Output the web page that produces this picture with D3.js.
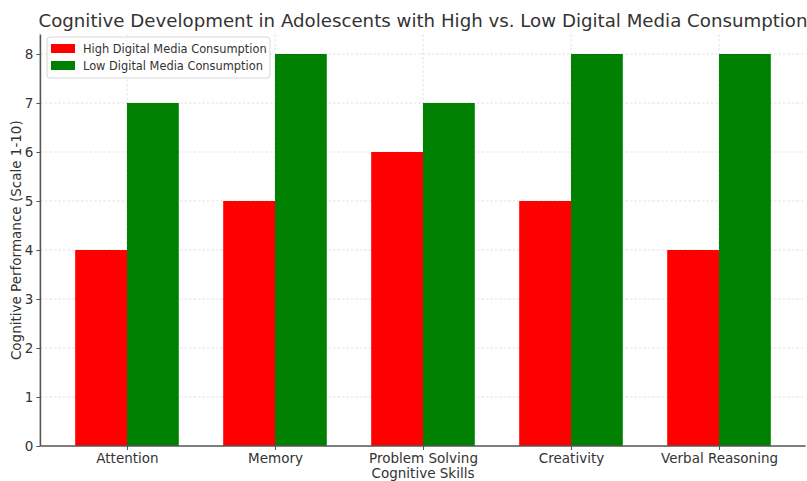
<!DOCTYPE html>
<html>
<head>
<meta charset="utf-8">
<script src="https://cdn.jsdelivr.net/npm/d3@7"></script>
<style>
  html, body { margin: 0; padding: 0; background: #fff; }
  svg { display: block; font-family: "DejaVu Sans", sans-serif; }
</style>
</head>
<body>
<svg id="chart" width="807" height="481"></svg>
<script>
// Cognitive skill scores for the two consumption groups
const skills = ["Attention", "Memory", "Problem Solving", "Creativity", "Verbal Reasoning"];
const highConsumption = [4, 5, 6, 5, 4];
const lowConsumption = [7, 8, 7, 8, 8];
const seriesNames = ["High Digital Media Consumption", "Low Digital Media Consumption"];
const seriesColors = ["#ff0000", "#008000"];
const yTicks = [0, 1, 2, 3, 4, 5, 6, 7, 8];

const svg = d3.select("#chart");
const margin = { left: 40.4, right: 1.4, top: 34.4, bottom: 35 };
const W = 807, H = 481;
const plotL = margin.left, plotR = W - margin.right;
const plotT = margin.top, plotB = H - margin.bottom;

const barW = 0.35;
// Linear x in category-index units, padded like a 5% margin around the bars
const xMin = -barW, xMax = skills.length - 1 + barW;
const pad = (xMax - xMin) * 0.05;
const x = d3.scaleLinear().domain([xMin - pad, xMax + pad]).range([plotL, plotR]);
const y = d3.scaleLinear().domain([0, 8.4]).range([plotB, plotT]);

const textColor = "#333333";
const gridColor = "#d4d4d4";

// Grid lines
const grid = svg.append("g");
grid.selectAll("line.h").data(yTicks.slice(1)).join("line")
  .attr("x1", plotL).attr("x2", plotR)
  .attr("y1", d => y(d)).attr("y2", d => y(d))
  .attr("stroke", gridColor).attr("stroke-width", 0.7).attr("stroke-dasharray", "2.5,2");
grid.selectAll("line.v").data(skills.map((s, i) => i)).join("line")
  .attr("x1", d => x(d)).attr("x2", d => x(d))
  .attr("y1", plotT).attr("y2", plotB)
  .attr("stroke", gridColor).attr("stroke-width", 0.7).attr("stroke-dasharray", "2.5,2");

// Bars
const series = [highConsumption, lowConsumption];
series.forEach((vals, si) => {
  svg.append("g").selectAll("rect").data(vals).join("rect")
    .attr("x", (d, i) => x(i + (si === 0 ? -barW : 0)))
    .attr("width", (d, i) => x(i + barW) - x(i))
    .attr("y", d => y(d))
    .attr("height", d => y(0) - y(d))
    .attr("fill", seriesColors[si]);
});

// Axes
const xAxis = d3.axisBottom(x).tickValues(skills.map((s, i) => i))
  .tickFormat(i => skills[i]).tickSize(4).tickPadding(3);
const gx = svg.append("g").attr("transform", `translate(0,${plotB})`).call(xAxis);
const yAxis = d3.axisLeft(y).tickValues(yTicks).tickSize(4).tickPadding(3);
const gy = svg.append("g").attr("transform", `translate(${plotL},0)`).call(yAxis);
[gx, gy].forEach(g => {
  g.select(".domain").attr("stroke", "#555").attr("stroke-width", 1.6);
  g.selectAll(".tick line").attr("stroke", "#555");
  g.selectAll(".tick text").attr("fill", textColor)
    .style("font-family", "DejaVu Sans").style("font-size", "13.5px");
});
// Keep the spine lines flat (no outer tick hooks) like a plain axis frame
gx.select(".domain").attr("d", `M${plotL},0H${plotR}`);
gy.select(".domain").attr("d", `M0,${plotB}V${plotT}`);

// Axis titles
svg.append("text").attr("x", (plotL + plotR) / 2).attr("y", 478)
  .attr("text-anchor", "middle").attr("fill", textColor).style("font-size", "13.5px")
  .text("Cognitive Skills");
svg.append("text").attr("transform", `translate(21,${(plotT + plotB) / 2}) rotate(-90)`)
  .attr("text-anchor", "middle").attr("fill", textColor).style("font-size", "13.5px")
  .text("Cognitive Performance (Scale 1-10)");

// Chart title
svg.append("text").attr("x", (plotL + plotR) / 2).attr("y", 27)
  .attr("text-anchor", "middle").attr("fill", textColor).style("font-size", "18.2px")
  .text("Cognitive Development in Adolescents with High vs. Low Digital Media Consumption");

// Legend
const lg = svg.append("g").attr("transform", "translate(47,37)");
lg.append("rect").attr("width", 223).attr("height", 41).attr("rx", 3)
  .attr("fill", "#fff").attr("fill-opacity", 0.85).attr("stroke", "#d8d8d8");
seriesNames.forEach((name, i) => {
  const row = lg.append("g").attr("transform", `translate(4,${7 + i * 17})`);
  row.append("rect").attr("width", 24).attr("height", 9).attr("fill", seriesColors[i]);
  row.append("text").attr("x", 32).attr("y", 9).attr("fill", textColor)
    .style("font-size", "11.4px").text(name);
});
</script>
</body>
</html>
